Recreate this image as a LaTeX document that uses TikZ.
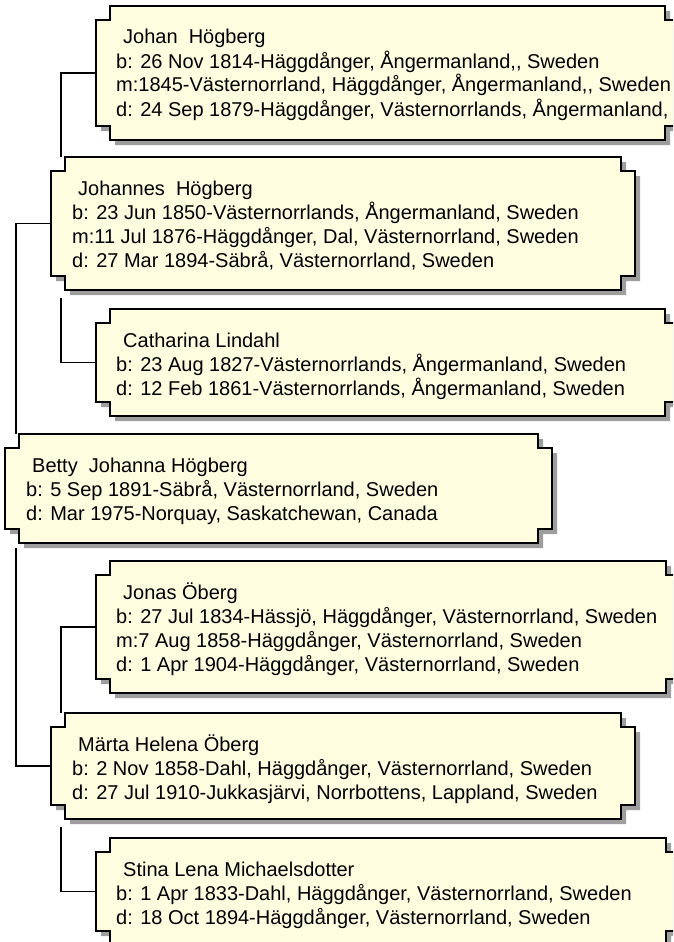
\documentclass[tikz,border=0pt]{standalone}
\usepackage{fontspec}
\setmainfont{Liberation Sans}
\usetikzlibrary{calc}
\definecolor{cardfill}{RGB}{255,253,224}
\definecolor{cardshadow}{RGB}{158,158,158}
\tikzset{
  cardline/.style={draw=black, line width=1.4pt, fill=cardfill},
  cardshade/.style={fill=cardshadow},
  cardtext/.style={anchor=base west, inner sep=0pt, font=\fontsize{20}{24}\selectfont},
  cardanchor/.style={inner sep=0pt, outer sep=0pt, draw=none},
  link/.style={draw=black, line width=1.2pt},
}
\newcommand\notchpath[4]{%
  (#1+14,#2) -- (#3-14,#2) -- (#3-14,#2+14) -- (#3,#2+14) -- (#3,#4-14) -- (#3-14,#4-14) --
  (#3-14,#4) -- (#1+14,#4) -- (#1+14,#4-14) -- (#1,#4-14) -- (#1,#2+14) -- (#1+14,#2+14) -- cycle}
\newcommand\familycard[5]{%
  \fill[cardshade, shift={(5,5)}] \notchpath{#2}{#3}{#4}{#5};
  \path[cardline] \notchpath{#2}{#3}{#4}{#5};
  \node[cardanchor, minimum width={#4-#2}, minimum height={#5-#3}] (#1) at ({(#2+#4)/2},{(#3+#5)/2}) {};
}
\begin{document}
\begin{tikzpicture}[x=1pt, y=-1pt]
\useasboundingbox (0,0) rectangle (673,942);
\clip (0,0) rectangle (673,942);

% cards
\familycard{johan}{96}{6}{679}{140}
\familycard{johannes}{51}{157}{635}{290}
\familycard{catharina}{96}{309}{679}{416}
\familycard{betty}{5}{434}{552}{543}
\familycard{jonas}{96}{561}{680}{693}
\familycard{marta}{51}{713}{635}{819}
\familycard{stina}{96}{838}{680}{945}

% connectors
\draw[link] (johan.west) -| ($(johannes.north west)+(10,0)$);
\draw[link] ($(johannes.south west)+(10,8)$) |- (catharina.west);
\draw[link] (johannes.west) -| ($(betty.north west)+(11,0)$);
\draw[link] ($(betty.south west)+(11,5)$) |- (marta.west);
\draw[link] (jonas.west) -| ($(marta.north west)+(10,0)$);
\draw[link] ($(marta.south west)+(10,8)$) |- (stina.west);

% texts
\node[cardtext] (johan1) at (123,44) {Johan\ \ Högberg};
\node[cardtext] (johan2) at (116,68) {b: 26 Nov 1814-Häggdånger, Ångermanland,\kern0pt, Sweden};
\node[cardtext] (johan3) at (116,92) {m:1845-Västernorrland, Häggdånger, Ångermanland,\kern0pt, Sweden};
\node[cardtext] (johan4) at (116,116) {d: 24 Sep 1879-Häggdånger, Västernorrlands, Ångermanland,};

\node[cardtext] (johannes1) at (78,195) {Johannes\ \ Högberg};
\node[cardtext] (johannes2) at (72,219) {b: 23 Jun 1850-Västernorrlands, Ångermanland, Sweden};
\node[cardtext] (johannes3) at (72,243) {m:11 Jul 1876-Häggdånger, Dal, Västernorrland, Sweden};
\node[cardtext] (johannes4) at (72,267) {d: 27 Mar 1894-Säbrå, Västernorrland, Sweden};

\node[cardtext] (catharina1) at (123,347) {Catharina Lindahl};
\node[cardtext] (catharina2) at (116,371) {b: 23 Aug 1827-Västernorrlands, Ångermanland, Sweden};
\node[cardtext] (catharina3) at (116,395) {d: 12 Feb 1861-Västernorrlands, Ångermanland, Sweden};

\node[cardtext] (betty1) at (32,472) {Betty\ \ Johanna Högberg};
\node[cardtext] (betty2) at (26,496) {b: 5 Sep 1891-Säbrå, Västernorrland, Sweden};
\node[cardtext] (betty3) at (26,520) {d: Mar 1975-Norquay, Saskatchewan, Canada};

\node[cardtext] (jonas1) at (123,599) {Jonas Öberg};
\node[cardtext] (jonas2) at (116,623) {b: 27 Jul 1834-Hässjö, Häggdånger, Västernorrland, Sweden};
\node[cardtext] (jonas3) at (116,647) {m:7 Aug 1858-Häggdånger, Västernorrland, Sweden};
\node[cardtext] (jonas4) at (116,671) {d: 1 Apr 1904-Häggdånger, Västernorrland, Sweden};

\node[cardtext] (marta1) at (78,751) {Märta Helena Öberg};
\node[cardtext] (marta2) at (72,775) {b: 2 Nov 1858-Dahl, Häggdånger, Västernorrland, Sweden};
\node[cardtext] (marta3) at (72,799) {d: 27 Jul 1910-Jukkasjärvi, Norrbottens, Lappland, Sweden};

\node[cardtext] (stina1) at (123,876) {Stina Lena Michaelsdotter};
\node[cardtext] (stina2) at (116,900) {b: 1 Apr 1833-Dahl, Häggdånger, Västernorrland, Sweden};
\node[cardtext] (stina3) at (116,924) {d: 18 Oct 1894-Häggdånger, Västernorrland, Sweden};
\end{tikzpicture}
\end{document}
